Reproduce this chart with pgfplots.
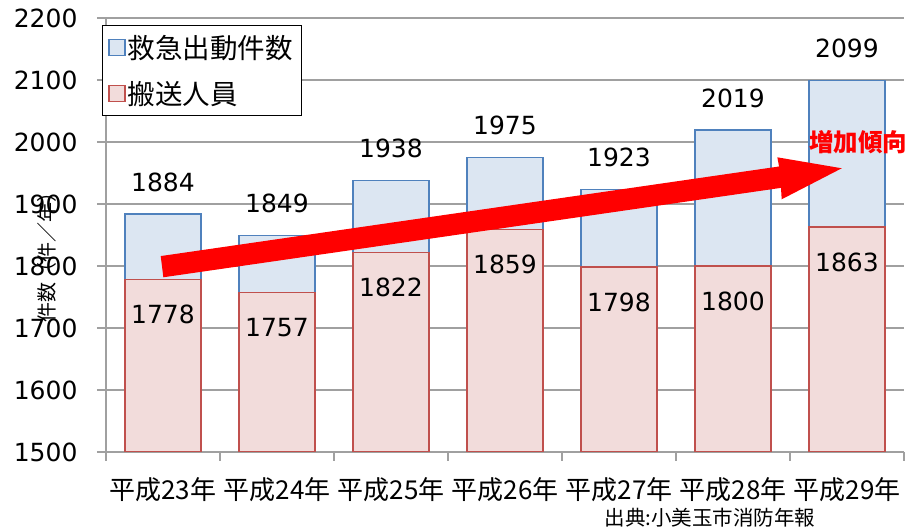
\documentclass[border=0pt]{standalone}
\usepackage{fontspec}
\setmainfont{DejaVu Sans}
\newfontfamily\jp{Noto Sans CJK JP}
\usepackage{pgfplots}
\pgfplotsset{compat=1.18}
\definecolor{bluefill}{HTML}{DCE6F2}
\definecolor{blueedge}{HTML}{4F81BD}
\definecolor{redfill}{HTML}{F2DCDB}
\definecolor{rededge}{HTML}{C0504D}
\definecolor{gridgray}{HTML}{A0A0A0}
\begin{document}
\begin{tikzpicture}
\begin{axis}[
  scale only axis, width=798pt, height=434pt,
  xmin=-0.5, xmax=6.5, ymin=1500, ymax=2200,
  ytick={1500,1600,...,2200},
  xtick={0,...,6},
  xticklabels={平成23年,平成24年,平成25年,平成26年,平成27年,平成28年,平成29年},
  minor xtick={-0.5,0.5,...,6.5},
  axis x line*=bottom, axis y line*=left,
  axis line style={gridgray, line width=1.5pt},
  ymajorgrids, grid style={gridgray, line width=1.2pt},
  major x tick style={draw=none},
  minor x tick style={gridgray, line width=1.5pt},
  major y tick style={gridgray, line width=1.5pt},
  tick align=outside,
  major tick length=9pt, minor tick length=9pt,
  clip mode=individual,
  /pgf/number format/.cd, 1000 sep={}, assume math mode=true, /pgfplots/.cd,
  yticklabel style={font=\fontsize{25}{25}\selectfont, xshift=-16pt},
  xticklabel style={font=\jp\fontsize{26}{26}\selectfont, yshift=-13pt},
  legend cell align=left,
  legend style={at={(0,1)}, anchor=north west, xshift=-4pt, yshift=-7pt,
    draw=black, line width=0.8pt, fill=white,
    font=\jp\fontsize{27.5}{30}\selectfont, row sep=17pt, inner xsep=6pt, inner ysep=8pt},
]
\addplot[ybar, bar width=0.67, bar shift=0pt, fill=bluefill, draw=blueedge, line width=1.5pt,
  nodes near coords,
  nodes near coords style={font=\fontsize{25}{25}\selectfont, anchor=center, yshift=32pt, black},
  legend image code/.code={\draw[blueedge, fill=bluefill, line width=1.5pt] (0pt,-8pt) rectangle (16pt,8pt);}]
  coordinates {(0,1884) (1,1849) (2,1938) (3,1975) (4,1923) (5,2019) (6,2099)};
\addlegendentry{救急出動件数}
\addplot[ybar, bar width=0.67, bar shift=0pt, fill=redfill, draw=rededge, line width=1.5pt,
  nodes near coords,
  nodes near coords style={font=\fontsize{25}{25}\selectfont, anchor=center, yshift=-35pt, black},
  legend image code/.code={\draw[rededge, fill=redfill, line width=1.5pt] (0pt,-8pt) rectangle (16pt,8pt);}]
  coordinates {(0,1778) (1,1757) (2,1822) (3,1859) (4,1798) (5,1800) (6,1863)};
\addlegendentry{搬送人員}
\fill[red] (axis cs:-0.020,1816) -- (axis cs:5.404,1960.5) -- (axis cs:5.389,1975.3)
  -- (axis cs:5.954,1957.6) -- (axis cs:5.427,1907.6) -- (axis cs:5.421,1926)
  -- (axis cs:0.003,1781.8) -- cycle;
\node[red, font=\jp\bfseries\fontsize{24.5}{24.5}\selectfont] at (axis cs:6.1,2000) {増加傾向};
\end{axis}
\node[rotate=90, font=\jp\fontsize{20}{20}\selectfont] at (-59pt,199pt) {件数（件／年）};
\node[font=\jp\fontsize{20.5}{20.5}\selectfont] at (604pt,-66pt) {出典:小美玉市消防年報};
\pgfresetboundingbox
\path (-106pt,-77pt) rectangle (806pt,452pt);
\end{tikzpicture}
\end{document}
